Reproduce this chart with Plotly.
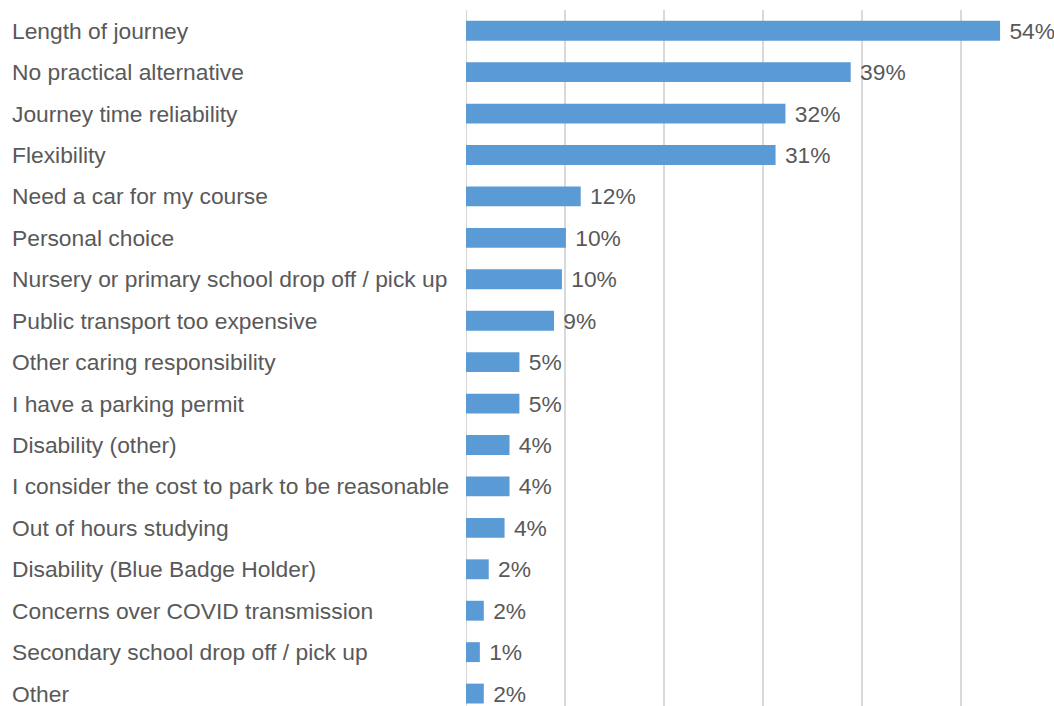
import plotly.graph_objects as go

# Reasons given for travelling by car (share of respondents, %)
reasons = [
    "Length of journey",
    "No practical alternative",
    "Journey time reliability",
    "Flexibility",
    "Need a car for my course",
    "Personal choice",
    "Nursery or primary school drop off / pick up",
    "Public transport too expensive",
    "Other caring responsibility",
    "I have a parking permit",
    "Disability (other)",
    "I consider the cost to park to be reasonable",
    "Out of hours studying",
    "Disability (Blue Badge Holder)",
    "Concerns over COVID transmission",
    "Secondary school drop off / pick up",
    "Other",
]
shares = [54.0, 38.9, 32.3, 31.3, 11.6, 10.1, 9.7, 8.9, 5.4, 5.4, 4.4, 4.4, 3.9, 2.3, 1.8, 1.4, 1.8]
x_ticks = [0, 10, 20, 30, 40, 50, 60]

W, H = 1054, 706
FONT = "Liberation Sans, Arial, sans-serif"
TEXT_GREY = "#595959"
BAR_BLUE = "#5B9BD5"
FONT_SIZE = 22.8

rows = list(range(len(reasons)))

fig = go.Figure(
    go.Bar(
        x=shares,
        y=rows,
        orientation="h",
        marker=dict(color=BAR_BLUE, line=dict(width=0)),
        width=0.48,
        texttemplate=" %{x:.0f}%",
        textposition="outside",
        constraintext="none",
        textfont=dict(family=FONT, size=FONT_SIZE, color=TEXT_GREY),
        cliponaxis=False,
        hoverinfo="skip",
    )
)

# Category labels, left-aligned in the left margin
for i, name in zip(rows, reasons):
    fig.add_annotation(
        x=10 / W, xref="paper", xanchor="left",
        y=i, yref="y", yanchor="middle",
        text=name, showarrow=False,
        font=dict(family=FONT, size=FONT_SIZE, color=TEXT_GREY),
    )

fig.update_layout(
    width=W,
    height=H,
    margin=dict(l=0, r=0, t=10, b=0),
    paper_bgcolor="white",
    plot_bgcolor="white",
    showlegend=False,
)
fig.update_xaxes(
    domain=[466 / W, 1.0],
    range=[0, (W - 466) / 9.89],
    tickvals=x_ticks,
    showticklabels=False,
    showgrid=True,
    gridcolor="#d9d9d9",
    gridwidth=1.5,
    zeroline=False,
    showline=False,
)
fig.update_yaxes(
    range=[16.3, -0.5],
    showticklabels=False,
    showgrid=False,
    zeroline=False,
    showline=False,
)
# Vertical baseline at 0%
fig.add_shape(
    type="line", xref="x", yref="paper",
    x0=0, x1=0, y0=0, y1=1,
    line=dict(color="#c8c8c8", width=1.5),
    layer="below",
)

fig.write_html("out.html")
